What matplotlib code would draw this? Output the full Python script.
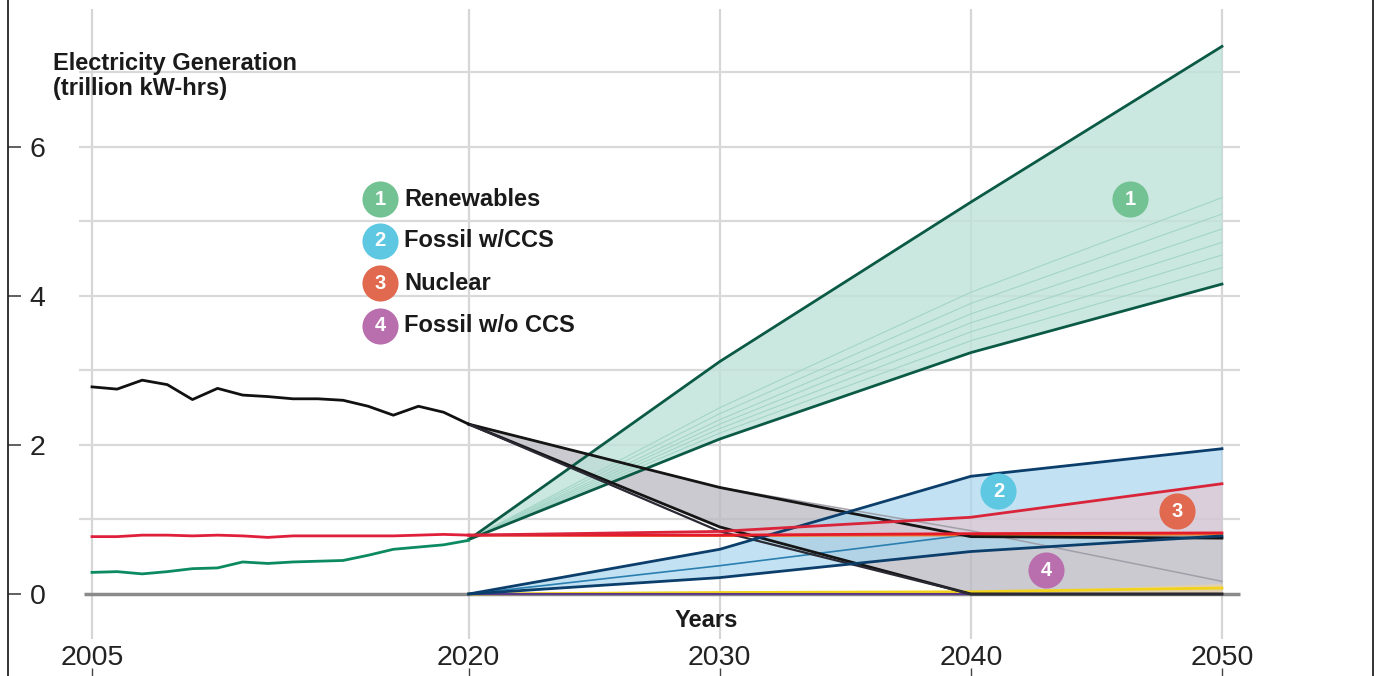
import matplotlib.pyplot as plt

plt.rcParams["font.family"] = ["Liberation Sans", "DejaVu Sans"]

# historical values 2005-2020 (trillion kWh)
hist_years = list(range(2005, 2021))
hist_fossil = [2.78, 2.75, 2.87, 2.81, 2.61, 2.76, 2.67, 2.65, 2.62, 2.62, 2.60, 2.52, 2.40, 2.52, 2.44, 2.28]
hist_nuclear = [0.77, 0.77, 0.79, 0.79, 0.78, 0.79, 0.78, 0.76, 0.78, 0.78, 0.78, 0.78, 0.78, 0.79, 0.80, 0.79]
hist_renew = [0.29, 0.30, 0.27, 0.30, 0.34, 0.35, 0.43, 0.41, 0.43, 0.44, 0.45, 0.52, 0.60, 0.63, 0.66, 0.72]

# scenario projections
proj_years = [2020, 2030, 2040, 2050]
renew_high = [0.73, 3.12, 5.26, 7.35]
renew_low = [0.73, 2.08, 3.24, 4.16]
renew_mid = [
    [0.73, 2.16, 3.40, 4.38],
    [0.73, 2.22, 3.52, 4.55],
    [0.73, 2.28, 3.64, 4.72],
    [0.73, 2.34, 3.76, 4.90],
    [0.73, 2.42, 3.90, 5.10],
    [0.73, 2.50, 4.05, 5.32],
]
fossil_high = [2.28, 1.43, 0.77, 0.75]
fossil_low = [2.28, 0.90, 0.0, 0.0]
fossil_low2 = [2.28, 0.84, 0.0, 0.0]
fossil_mid = [2.28, 1.43, 0.85, 0.17]
ccs_high = [0.0, 0.60, 1.58, 1.95]
ccs_low = [0.0, 0.22, 0.57, 0.78]
ccs_mid = [0.0, 0.38, 0.80, 0.80]
nuc_high = [0.79, 0.84, 1.03, 1.48]
nuc_low = [0.79, 0.79, 0.81, 0.82]
nuc_mid = [0.79, 0.78, 0.79, 0.80]
other_yellow = [0.0, 0.02, 0.03, 0.08]
other_tan = [0.0, 0.01, 0.02, 0.14]

x_ticks = [2005, 2020, 2030, 2040, 2050]
y_ticks = [0, 2, 4, 6]
grid_levels = [1, 2, 3, 4, 5, 6, 7]

legend_names = ["Renewables", "Fossil w/CCS", "Nuclear", "Fossil w/o CCS"]
legend_colors = ["#72c293", "#5ec8e2", "#e0694f", "#b96fae"]
legend_y = [5.30, 4.74, 4.17, 3.60]
badge_x = [2046.35, 2041.1, 2048.2, 2043.0]
badge_y = [5.30, 1.38, 1.11, 0.32]

fig = plt.figure(figsize=(13.77, 6.76), dpi=100)
ax = fig.add_axes([8 / 1377, 0, 1365 / 1377, 1])
ax.set_xlim(2001.655, 2056.015)
ax.set_ylim(-1.1007, 7.973)

for side in ["top", "bottom"]:
    ax.spines[side].set_visible(False)
for side in ["left", "right"]:
    ax.spines[side].set_linewidth(1.3)
    ax.spines[side].set_color("#222222")

# grid
ax.vlines(x_ticks, -0.6, 7.85, color="#d6d6d6", lw=1.6, zorder=0)
ax.hlines(grid_levels, 2004.5, 2050.7, color="#d9d9d9", lw=1.6, zorder=0)
ax.hlines(0, 2004.7, 2050.7, color="#8a8a8a", lw=2.5, zorder=1)

# fills
ax.fill_between(proj_years, fossil_low, fossil_high, color="#b9b9c1", alpha=0.75, lw=0, zorder=2)
ax.fill_between(proj_years, renew_low, renew_high, color="#bfe3d9", alpha=0.8, lw=0, zorder=3)
ax.fill_between(proj_years, ccs_low, ccs_high, color="#a9d6ef", alpha=0.7, lw=0, zorder=3)
ax.fill_between(proj_years, nuc_low, nuc_high, color="#efbfc6", alpha=0.55, lw=0, zorder=3)
ax.fill_between(proj_years, 0, other_tan, color="#e9d3a8", alpha=0.8, lw=0, zorder=3)

# scenario lines
for vals in renew_mid:
    ax.plot(proj_years, vals, color="#a3d5c6", lw=0.8, zorder=4)
ax.plot(proj_years, renew_high, color="#0b5a45", lw=2, zorder=6)
ax.plot(proj_years, renew_low, color="#0b5a45", lw=2, zorder=6)

ax.plot(proj_years, fossil_mid, color="#a0a0aa", lw=1.1, zorder=4)
ax.plot(proj_years, fossil_high, color="#151515", lw=2, zorder=6)
ax.plot(proj_years, fossil_low, color="#151515", lw=2, zorder=6)
ax.plot(proj_years, fossil_low2, color="#2a2a35", lw=1.6, zorder=6)

ax.plot(proj_years, ccs_mid, color="#2b7fb0", lw=1.2, zorder=5)
ax.plot(proj_years, ccs_high, color="#0c3e6b", lw=2, zorder=6)
ax.plot(proj_years, ccs_low, color="#0c3e6b", lw=2, zorder=6)

ax.plot(proj_years, nuc_mid, color="#ef7a22", lw=1.6, zorder=5)
ax.plot(proj_years, nuc_low, color="#e31b2b", lw=2, zorder=6)
ax.plot(proj_years, nuc_high, color="#d9243a", lw=2, zorder=6)

ax.plot(proj_years, other_yellow, color="#f2d21b", lw=2, zorder=5)
ax.plot(proj_years, [0, 0, 0, 0], color="#5b3a8a", lw=1.5, zorder=5)

# history
ax.plot(hist_years, hist_fossil, color="#111111", lw=2, zorder=7)
ax.plot(hist_years, hist_nuclear, color="#e0203a", lw=2, zorder=7)
ax.plot(hist_years, hist_renew, color="#0c8a62", lw=2, zorder=7)

# legend and badges
for i, (name, col, ly) in enumerate(zip(legend_names, legend_colors, legend_y)):
    ax.scatter(2016.47, ly, s=26 ** 2, color=col, zorder=9, lw=0)
    ax.text(2016.47, ly, str(i + 1), color="white", fontsize=14.5,
            fontweight="bold", ha="center", va="center", zorder=10)
    ax.text(2017.43, ly, name, color="#1a1a1a", fontsize=17, fontweight="bold",
            ha="left", va="center", zorder=10)

for i, (bx, by) in enumerate(zip(badge_x, badge_y)):
    ax.scatter(bx, by, s=26 ** 2, color=legend_colors[i], zorder=9, lw=0)
    ax.text(bx, by, str(i + 1), color="white", fontsize=14.5, fontweight="bold",
            ha="center", va="center", zorder=10)

ax.text(2003.45, 7.28, "Electricity Generation\n(trillion kW-hrs)", fontsize=17,
        fontweight="bold", color="#1a1a1a", ha="left", va="top", linespacing=1.12)
ax.text(2029.45, -0.36, "Years", fontsize=17, fontweight="bold", color="#1a1a1a",
        ha="center", va="center")

# ticks
ax.set_xticks(x_ticks)
ax.set_xticklabels([str(v) for v in x_ticks], fontsize=20.5, color="#222222")
ax.tick_params(axis="x", direction="in", length=6, width=1, color="#444444", pad=-22)
ax.set_yticks(y_ticks)
ax.set_yticklabels([str(v) for v in y_ticks], fontsize=20.5, color="#222222")
ax.tick_params(axis="y", direction="in", length=9, width=1.2, color="#444444", pad=-27)
ax.tick_params(axis="y", right=False)

fig.savefig("out.png", dpi=100)
